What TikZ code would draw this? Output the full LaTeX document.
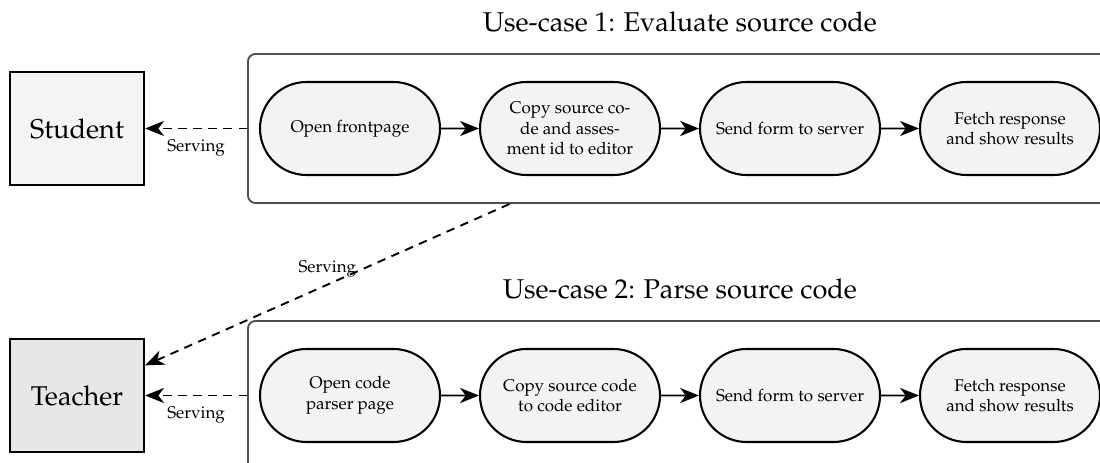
\documentclass[tikz,border=0pt]{standalone}
\usepackage[T1]{fontenc}
\usepackage{mathpazo}
\usetikzlibrary{shapes.misc,arrows.meta,fit,calc}

% one drawing unit
\def\pxu{0.53pt}

\definecolor{pillfill}{RGB}{242,244,243}
\definecolor{studentfill}{RGB}{244,244,244}
\definecolor{teacherfill}{RGB}{231,231,231}
\definecolor{framegray}{RGB}{80,80,80}

\tikzset{
  actor/.style={draw=black, line width=1.2pt, minimum width=134*\pxu,
    minimum height=113*\pxu, font=\Large, inner sep=0pt},
  stepnode/.style={rounded rectangle, draw=black, line width=1.1pt, fill=pillfill,
    minimum width=180*\pxu, minimum height=93*\pxu, align=center,
    font=\small, inner sep=0pt},
  usecase/.style={draw=framegray, line width=1pt, rounded corners=4pt,
    inner xsep=11*\pxu, inner ysep=27*\pxu},
  flow/.style={-{Stealth[length=10pt,width=8pt,inset=3pt]}, line width=1pt},
  serve/.style={flow, dash pattern=on 4.5pt off 3.5pt},
  servelabel/.style={font=\small},
  title/.style={font=\Large, anchor=base}
}

\begin{document}
\begin{tikzpicture}[x=\pxu, y=-\pxu]
  \useasboundingbox (0,0) rectangle (1100,463);
  \clip (0,0) rectangle (1100,463);

  % actors
  \node[actor, fill=studentfill] (student) at (77,128.5) {Student};
  \node[actor, fill=teacherfill] (teacher) at (77,395.5) {Teacher};

  % use-case 1 steps
  \node[stepnode] (a1) at (350,128.5) {Open frontpage};
  \node[stepnode] (a2) at (570,128.5) {Copy source co-\\de and asses-\\ment id to editor};
  \node[stepnode] (a3) at (790,128.5) {Send form to server};
  \node[stepnode] (a4) at (1010,128.5) {Fetch response\\and show results};

  % use-case 2 steps
  \node[stepnode] (b1) at (350,395.5) {Open code\\parser page};
  \node[stepnode] (b2) at (570,395.5) {Copy source code\\to code editor};
  \node[stepnode] (b3) at (790,395.5) {Send form to server};
  \node[stepnode] (b4) at (1010,395.5) {Fetch response\\and show results};

  % use-case frames and titles
  \node[usecase, fit=(a1)(a4)] (c1) {};
  \node[usecase, fit=(b1)(b4)] (c2) {};
  \node[title] (t1) at ($(c1.north)+(0,-22)$) {Use-case 1: Evaluate source code};
  \node[title] (t2) at ($(c2.north)+(0,-22)$) {Use-case 2: Parse source code};

  % step flow
  \draw[flow] (a1) -- (a2);
  \draw[flow] (a2) -- (a3);
  \draw[flow] (a3) -- (a4);
  \draw[flow] (b1) -- (b2);
  \draw[flow] (b2) -- (b3);
  \draw[flow] (b3) -- (b4);

  % serving links
  \draw[serve] (c1) -- node[servelabel, midway, below, yshift=-2pt] {Serving} (student);
  \draw[serve] (c1) -- node[servelabel, midway, above] {Serving} (teacher);
  \draw[serve] (c2) -- node[servelabel, midway, below, yshift=-2pt] {Serving} (teacher);
\end{tikzpicture}
\end{document}
